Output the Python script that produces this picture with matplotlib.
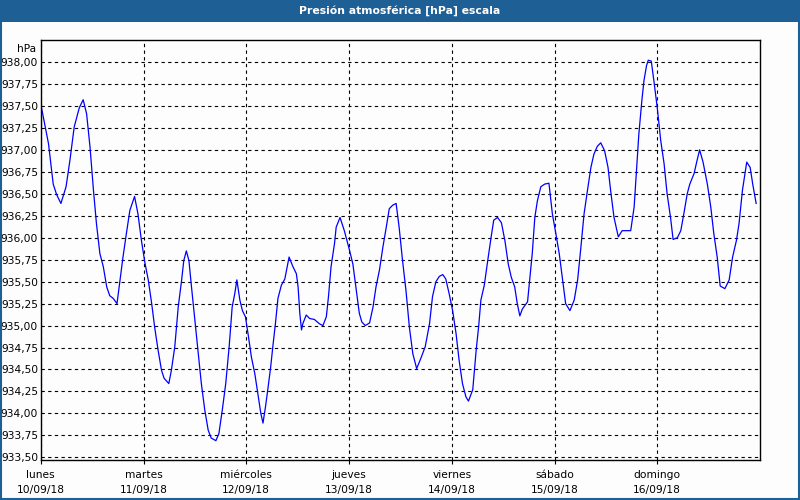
import matplotlib
matplotlib.use("Agg")
import matplotlib.pyplot as plt
from matplotlib.patches import Rectangle
from matplotlib.ticker import FuncFormatter

# hours since lunes 10/09/18 00:00
hours = [
    0.0, 1.8, 2.9, 3.7, 4.7, 5.9, 6.8, 7.8, 9.0, 9.9, 10.7, 11.5, 12.3, 13.0,
    13.8, 14.6, 15.4, 16.1, 16.9, 17.8, 18.5, 19.2, 20.0, 20.8, 21.9, 22.7,
    23.5, 24.3, 25.1, 25.9, 26.6, 27.4, 28.2, 28.8, 29.9, 30.5, 31.3, 32.1,
    32.9, 33.4, 34.0, 34.6, 35.2, 36.0, 36.7, 37.5, 38.3, 39.1, 39.8, 40.9,
    41.6, 42.4, 43.2, 44.0, 44.7, 45.3, 45.8, 46.5, 47.1, 47.8, 48.4, 49.2,
    50.0, 50.8, 51.4, 51.9, 52.5, 53.1, 53.7, 54.2, 54.8, 55.4, 56.2, 57.0,
    58.0, 58.9, 59.7, 60.1, 60.5, 60.9, 61.2, 62.0, 62.8, 63.9, 65.1, 65.9,
    66.7, 67.2, 67.8, 68.6, 69.0, 69.9, 70.9, 72.1, 72.9, 73.7, 74.4, 75.0,
    75.8, 76.8, 77.6, 78.3, 79.1, 79.9, 80.7, 81.4, 82.2, 83.0, 83.7, 84.5,
    85.3, 86.1, 86.9, 87.8, 88.8, 89.8, 90.8, 91.5, 92.3, 93.1, 93.9, 94.6,
    95.4, 96.2, 97.0, 97.7, 98.5, 99.3, 99.9, 100.9, 101.7, 102.3, 102.8,
    103.6, 104.4, 105.2, 105.8, 106.7, 107.6, 108.4, 109.2, 109.9, 110.7,
    111.3, 111.9, 112.5, 113.7, 114.2, 114.8, 115.4, 116.0, 116.8, 117.7,
    118.7, 119.5, 120.3, 121.1, 121.8, 122.6, 123.6, 124.6, 125.4, 126.1,
    126.9, 127.7, 128.5, 129.2, 130.0, 130.8, 131.7, 132.5, 133.1, 133.9,
    134.9, 135.8, 137.8, 138.6, 139.1, 139.7, 140.4, 140.9, 141.5, 141.9,
    142.6, 143.2, 144.0, 144.8, 145.6, 146.3, 147.1, 147.7, 148.7, 149.5,
    150.2, 151.0, 151.6, 152.6, 153.3, 153.9, 154.7, 155.7, 156.5, 157.2,
    158.0, 158.7, 159.8, 160.8, 161.6, 162.5, 163.1, 163.9, 164.9, 165.7,
    166.3, 167.1,
]
pressure = [
    937.52, 937.07, 936.61, 936.49, 936.39, 936.58, 936.88, 937.26, 937.48,
    937.57, 937.41, 937.03, 936.54, 936.16, 935.82, 935.67, 935.44, 935.34,
    935.31, 935.25, 935.52, 935.78, 936.05, 936.31, 936.47, 936.27, 935.97,
    935.72, 935.52, 935.25, 934.98, 934.72, 934.49, 934.40, 934.34, 934.49,
    934.76, 935.21, 935.52, 935.74, 935.85, 935.74, 935.44, 935.06, 934.72,
    934.34, 934.04, 933.81, 933.72, 933.69, 933.77, 934.04, 934.34, 934.76,
    935.21, 935.36, 935.52, 935.29, 935.17, 935.10, 934.91, 934.64, 934.45,
    934.19, 934.00, 933.89, 934.08, 934.30, 934.53, 934.76, 935.02, 935.31,
    935.46, 935.53, 935.78, 935.67, 935.59, 935.44, 935.14, 934.95, 935.02,
    935.12, 935.08, 935.07, 935.02, 935.00, 935.10, 935.33, 935.67, 935.93,
    936.12, 936.23, 936.08, 935.86, 935.70, 935.40, 935.14, 935.04, 935.00,
    935.03, 935.21, 935.44, 935.63, 935.89, 936.12, 936.33, 936.37, 936.39,
    936.12, 935.74, 935.40, 934.98, 934.68, 934.51, 934.63, 934.76, 935.02,
    935.33, 935.50, 935.56, 935.58, 935.53, 935.36, 935.17, 934.91, 934.61,
    934.34, 934.19, 934.14, 934.27, 934.72, 935.00, 935.29, 935.46, 935.74,
    936.01, 936.20, 936.23, 936.17, 935.97, 935.70, 935.55, 935.44, 935.25,
    935.11, 935.19, 935.27, 935.52, 935.82, 936.23, 936.42, 936.58, 936.61,
    936.62, 936.27, 936.05, 935.82, 935.55, 935.25, 935.17, 935.29, 935.52,
    935.86, 936.27, 936.54, 936.80, 936.95, 937.04, 937.08, 936.99, 936.80,
    936.54, 936.23, 936.01, 936.08, 936.08, 936.35, 936.73, 937.18, 937.56,
    937.79, 937.96, 938.02, 938.01, 937.79, 937.48, 937.11, 936.84, 936.50,
    936.23, 935.98, 936.00, 936.08, 936.27, 936.50, 936.61, 936.73, 936.88,
    937.00, 936.86, 936.61, 936.35, 936.05, 935.78, 935.45, 935.42, 935.52,
    935.78, 935.97, 936.16, 936.54, 936.86, 936.80, 936.61, 936.39,
]

day_names = ["lunes", "martes", "miércoles", "jueves", "viernes", "sábado", "domingo"]
day_dates = ["10/09/18", "11/09/18", "12/09/18", "13/09/18", "14/09/18", "15/09/18", "16/09/18"]
y_ticks = [933.50 + 0.25 * i for i in range(19)]

BAR_BLUE = "#1e6095"

plt.rcParams["font.family"] = ["DejaVu Sans"]
fig = plt.figure(figsize=(8, 5), dpi=100, facecolor="#fdfdfd")
ax = fig.add_axes([0.051, 0.08, 0.899, 0.84])
ax.set_facecolor("#fdfdfd")

ax.plot(hours, pressure, color="#0000ff", lw=0.9)

ax.set_xlim(0, 168)
ax.set_ylim(933.47, 938.25)
ax.set_yticks(y_ticks)
ax.yaxis.set_major_formatter(FuncFormatter(lambda v, _: f"{v:.2f}".replace(".", ",")))
ax.set_xticks([24 * i for i in range(len(day_names))])
ax.set_xticklabels([f"{n}\n{d}" for n, d in zip(day_names, day_dates)], linespacing=1.6)
ax.tick_params(axis="y", length=0, pad=2, labelsize=7.7)
ax.tick_params(axis="x", length=3, width=0.8, pad=4, labelsize=7.7)

ax.grid(True, color="black", linestyle=(0, (3, 3)), linewidth=0.8)
for s in ax.spines.values():
    s.set_linewidth(1.0)
    s.set_color("black")

ax.text(-0.006, 0.99, "hPa", transform=ax.transAxes, ha="right", va="top", fontsize=7.7)

# title bar and window frame
fig.patches.append(Rectangle((0, 0.956), 1, 0.044, transform=fig.transFigure,
                             facecolor=BAR_BLUE, edgecolor="none"))
fig.text(0.5, 0.978, "Presión atmosférica [hPa] escala", ha="center", va="center",
         color="white", fontsize=7.8, fontweight="bold")
fig.patches.append(Rectangle((0.001, 0.002), 0.998, 0.997, transform=fig.transFigure,
                             facecolor="none", edgecolor=BAR_BLUE, lw=1.5))

fig.savefig("out.png", dpi=100, facecolor=fig.get_facecolor())
